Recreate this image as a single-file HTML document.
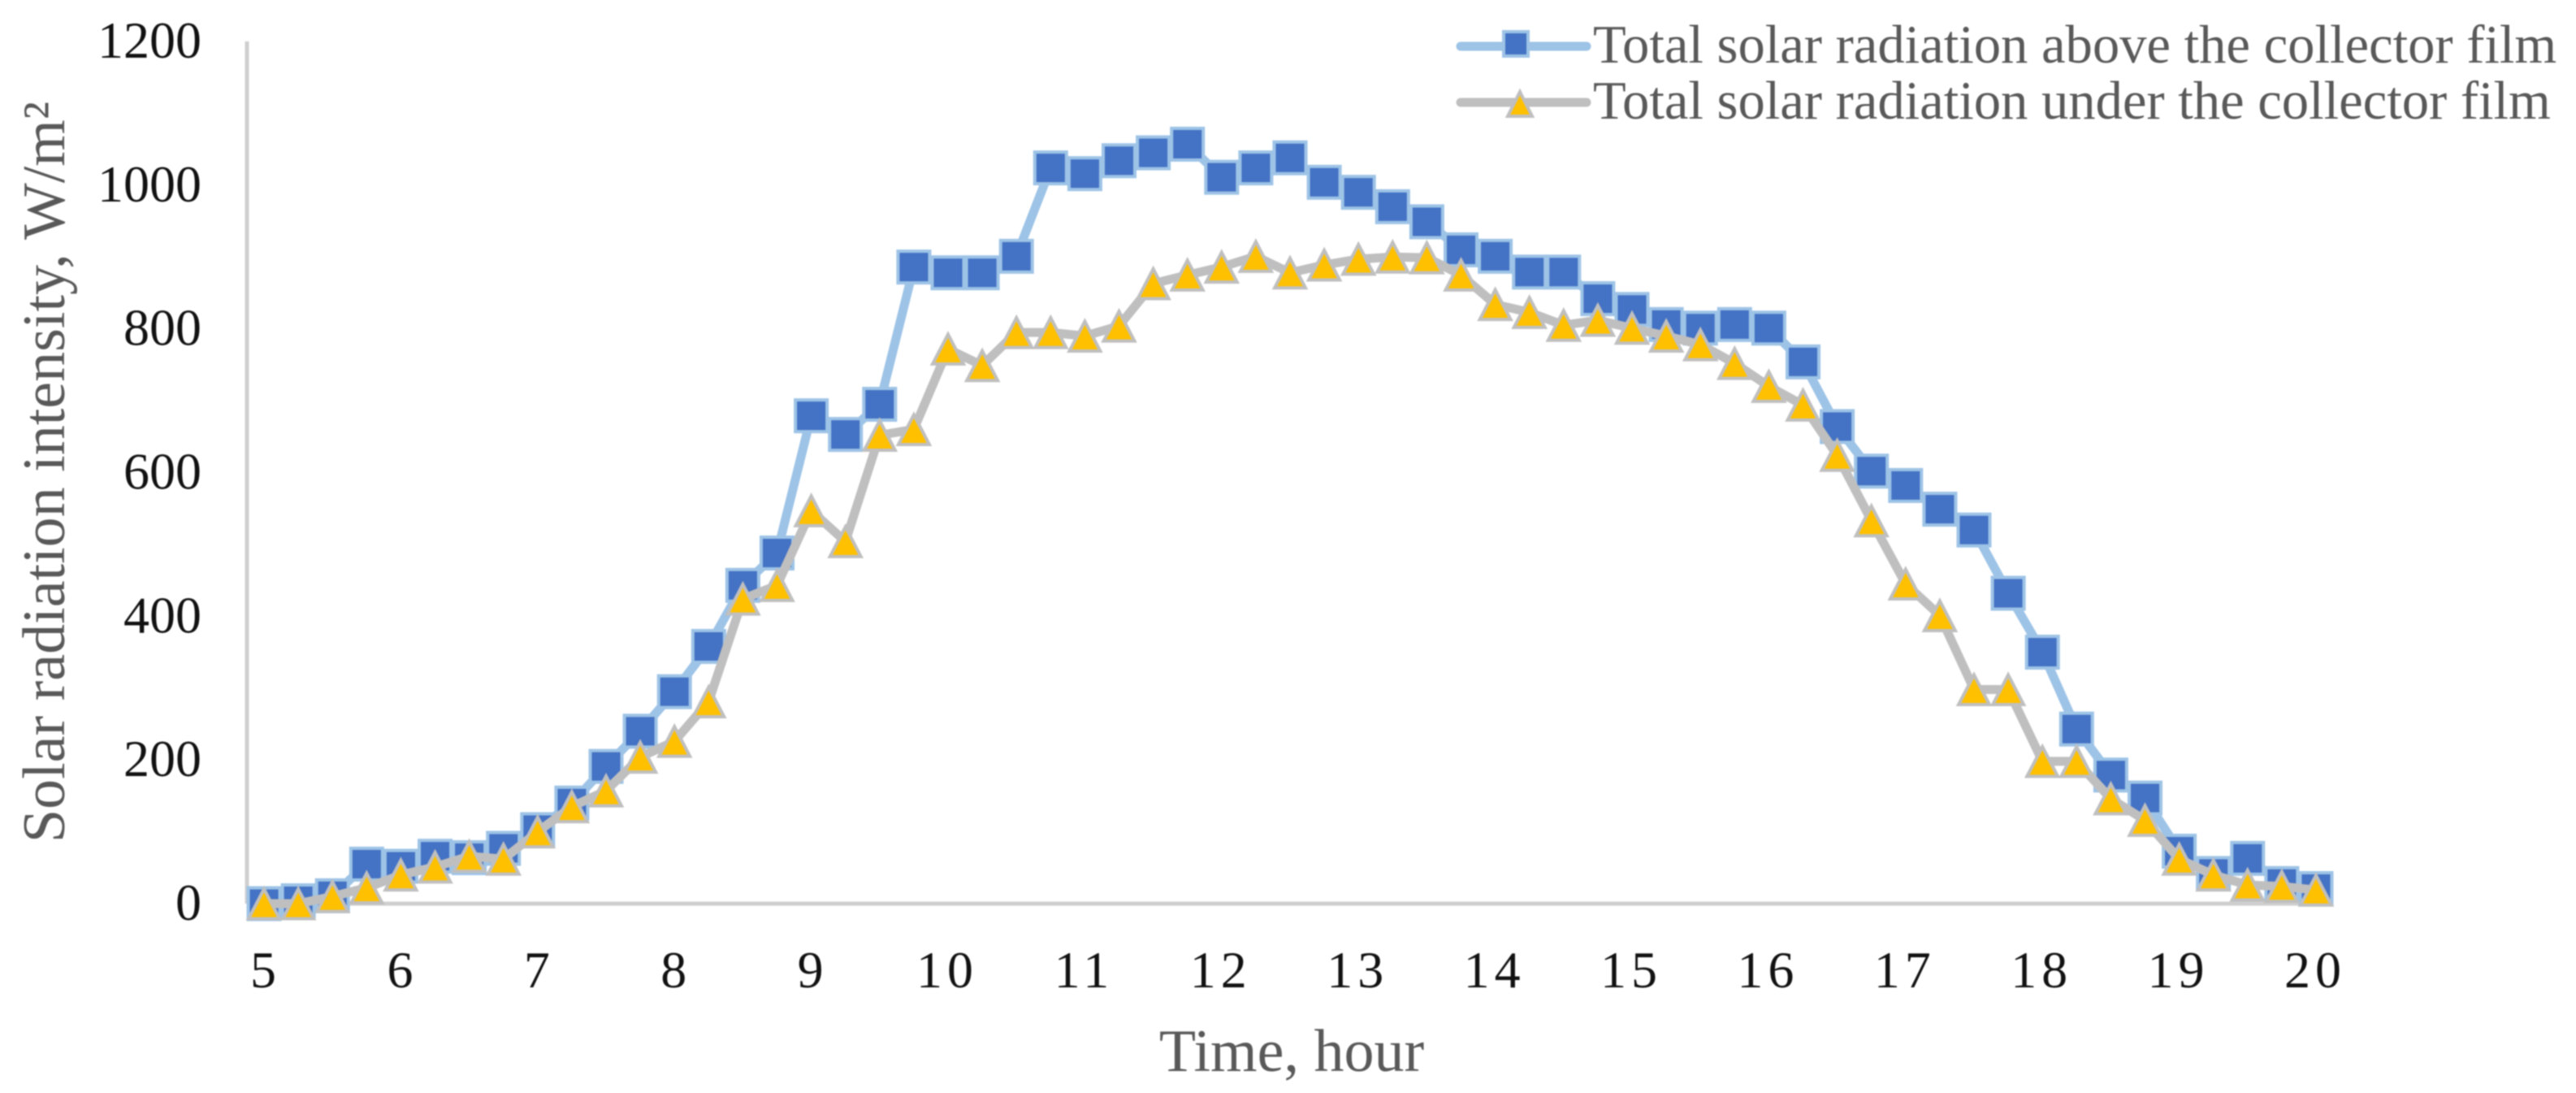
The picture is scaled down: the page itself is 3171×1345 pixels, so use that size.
<!DOCTYPE html>
<html lang="en">
<head>
<meta charset="utf-8">
<title>Total solar radiation above and under the collector film</title>
<style>
html,body{margin:0;padding:0;background:#fff;width:3171px;height:1345px;overflow:hidden}
svg{display:block;filter:blur(.9px)}
text{font-family:"Liberation Serif",serif}
.tick{font-size:64px;fill:#111}
.title{font-size:74px;fill:#595959}
.legend{font-size:66.6px;fill:#595959}
</style>
</head>
<body>
<svg id="chart" width="3171" height="1345" viewBox="0 0 3171 1345" xmlns="http://www.w3.org/2000/svg">
  <rect width="3171" height="1345" fill="#fff"/>
  <text class="title" text-anchor="middle" transform="translate(79 581) rotate(-90)">Solar radiation intensity, W/m²</text>
  <text class="title" x="1590" y="1318" text-anchor="middle">Time, hour</text>
  <g>
    <g>
      <line x1="1798" x2="1953" y1="57" y2="57" stroke="#9DC3E6" stroke-width="11" stroke-linecap="round"/>
      <rect x="1851" y="39" width="30" height="30" fill="#4472C4" stroke="#9DC3E6" stroke-width="4"/>
      <text class="legend" x="1961" y="77">Total solar radiation above the collector film</text>
    </g>
    <g>
      <line x1="1798" x2="1953" y1="126" y2="126" stroke="#BFBFBF" stroke-width="11" stroke-linecap="round"/>
      <polygon points="1871,113 1886,143 1856,143" fill="#FFC000" stroke="#BFBFBF" stroke-width="4"/>
      <text class="legend" x="1961" y="146">Total solar radiation under the collector film</text>
    </g>
  </g>
</svg>
<script>
var hourLabels = ["5","6","7","8","9","10","11","12","13","14","15","16","17","18","19","20"];
var yTicks = [0,200,400,600,800,1000,1200];
var radiationAbove = [0,4,11,55,52,66,64,77,103,140,191,240,295,358,443,488,679,653,695,886,878,878,901,1024,1016,1034,1045,1057,1011,1024,1038,1004,990,970,949,910,901,879,879,842,827,806,801,806,801,754,664,602,582,549,520,432,350,243,179,147,73,42,63,28,21];
var radiationUnder = [0,0,10,22,40,51,66,62,100,135,157,204,226,281,424,443,547,504,652,660,772,749,795,795,790,804,863,875,886,901,878,889,897,900,899,875,834,823,805,812,801,790,778,752,720,694,624,533,445,401,298,298,198,198,146,116,62,40,26,24,19];

var svgNS = "http://www.w3.org/2000/svg";
var chart = document.getElementById("chart");
var plotLeft = 304, plotRight = 2872, plotTop = 51, plotBottom = 1112;
var yMax = 1200, pointsPerHour = 4;
var pointCount = radiationAbove.length;
var step = (plotRight - plotLeft) / pointCount;

function xByIndex(i){ return plotLeft + step * (i + 0.5); }
function yByValue(v){ return plotBottom - (v / yMax) * (plotBottom - plotTop); }
function make(tag, attrs){
  var el = document.createElementNS(svgNS, tag);
  for (var k in attrs) el.setAttribute(k, attrs[k]);
  return el;
}

var yAxis = make("line", {x1:plotLeft, x2:plotLeft, y1:plotTop, y2:plotBottom, stroke:"#CFCFCF", "stroke-width":5});


chart.appendChild(yAxis);

var xAxis = make("line", {x1:plotLeft, x2:plotRight, y1:plotBottom, y2:plotBottom, stroke:"#CFCFCF", "stroke-width":5});


chart.appendChild(xAxis);

yTicks.forEach(function(t){
  var el = make("text", {x:248, y:yByValue(t) + 20, "text-anchor":"end", "class":"tick"});
  
  
  el.textContent = t;
  chart.appendChild(el);
});

hourLabels.forEach(function(h, i){
  var el = make("text", {x:xByIndex(i * pointsPerHour) - 1, y:1215, "text-anchor":"middle", "class":"tick", "letter-spacing":h.length > 1 ? 6 : 0});
  
  
  el.textContent = h;
  chart.appendChild(el);
});

function linePoints(values){
  return values.map(function(v, i){ return xByIndex(i).toFixed(1) + "," + yByValue(v).toFixed(1); }).join(" ");
}

var aboveLine = make("polyline", {points:linePoints(radiationAbove), fill:"none", stroke:"#9DC3E6", "stroke-width":11, "stroke-linejoin":"round", "stroke-linecap":"round"});


chart.appendChild(aboveLine);

radiationAbove.forEach(function(v, i){
  var s = 39;
  var el = make("rect", {x:xByIndex(i) - s / 2, y:yByValue(v) - s / 2, width:s, height:s, fill:"#4472C4", stroke:"#9DC3E6", "stroke-width":4});
  
  
  chart.appendChild(el);
});

var underLine = make("polyline", {points:linePoints(radiationUnder), fill:"none", stroke:"#BFBFBF", "stroke-width":11, "stroke-linejoin":"round", "stroke-linecap":"round"});


chart.appendChild(underLine);

radiationUnder.forEach(function(v, i){
  var x = xByIndex(i), y = yByValue(v);
  var pts = x + "," + (y - 18) + " " + (x + 19) + "," + (y + 18.5) + " " + (x - 19) + "," + (y + 18.5);
  var el = make("polygon", {points:pts, fill:"#FFC000", stroke:"#BFBFBF", "stroke-width":4, "stroke-linejoin":"miter"});
  
  
  chart.appendChild(el);
});
</script>
</body>
</html>
